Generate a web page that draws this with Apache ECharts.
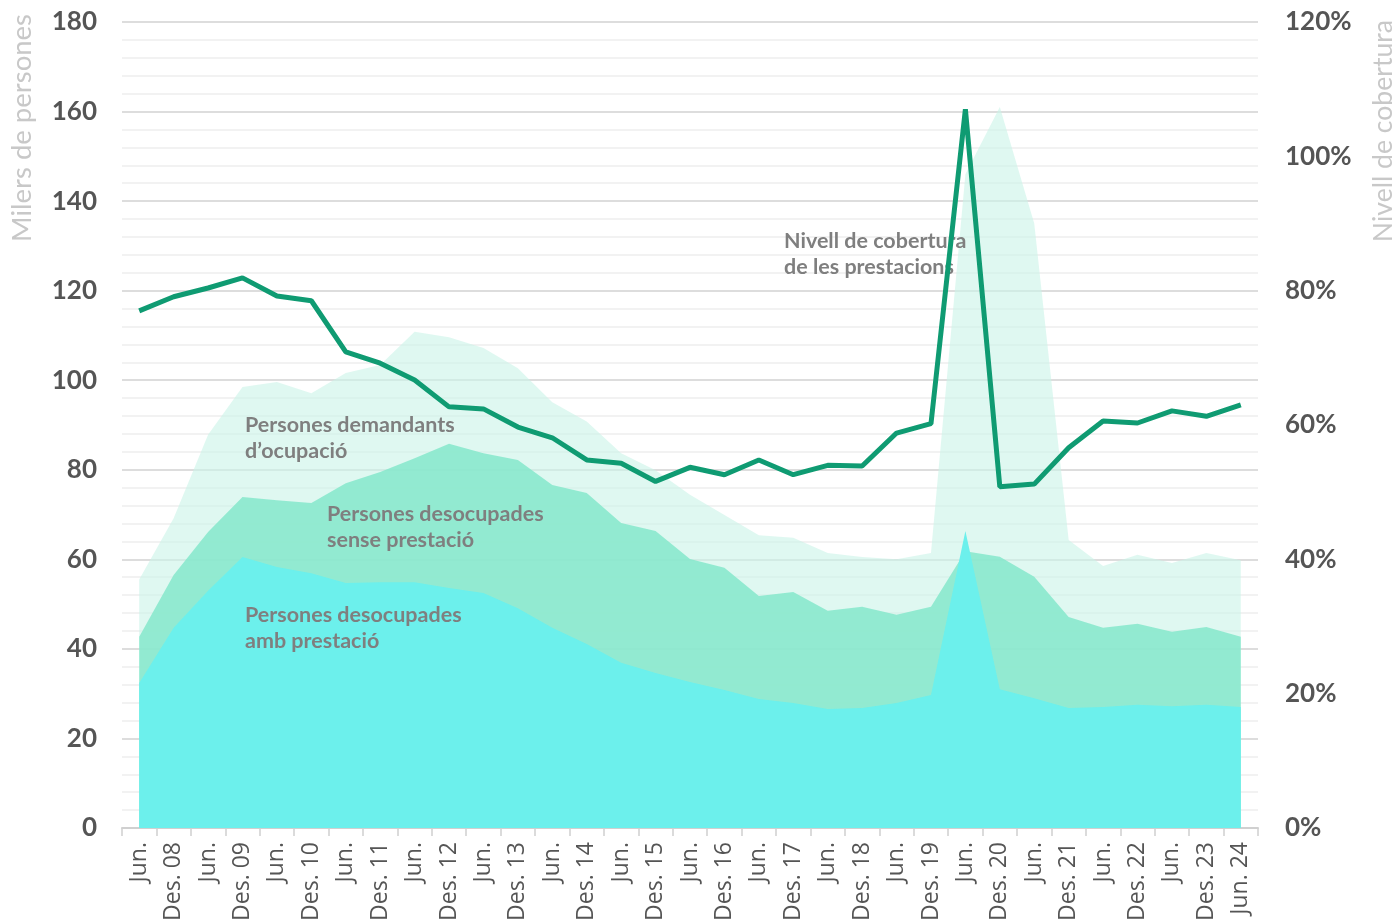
<!DOCTYPE html>
<html>
<head>
<meta charset="utf-8">
<script src="https://cdn.jsdelivr.net/npm/echarts@6/dist/echarts.min.js"></script>
<style>
  html, body { margin: 0; padding: 0; background: #fff; }
  #chart { width: 1396px; height: 922px; }
</style>
</head>
<body>
<div id="chart"></div>
<script>
var categories = ['Jun.', 'Des. 08', 'Jun.', 'Des. 09', 'Jun.', 'Des. 10', 'Jun.', 'Des. 11',
    'Jun.', 'Des. 12', 'Jun.', 'Des. 13', 'Jun.', 'Des. 14', 'Jun.', 'Des. 15', 'Jun.', 'Des. 16',
    'Jun.', 'Des. 17', 'Jun.', 'Des. 18', 'Jun.', 'Des. 19', 'Jun.', 'Des. 20', 'Jun.', 'Des. 21',
    'Jun.', 'Des. 22', 'Jun.', 'Des. 23', 'Jun. 24'];

// milers de persones
var demandants = [55.5, 69.2, 87.8, 98.5, 99.6, 97.1, 101.6, 103.4, 110.8, 109.6, 107.2, 102.7,
    95.1, 90.8, 83.7, 79.9, 74.4, 69.9, 65.4, 64.8, 61.4, 60.5, 60.0, 61.4,
    146, 161, 135, 64.3, 58.5, 61.0, 59.2, 61.4, 59.8];
var desocupades = [42.7, 56.5, 66.1, 73.9, 73.2, 72.6, 77.0, 79.5, 82.6, 85.8, 83.7, 82.2,
    76.6, 74.8, 68.1, 66.3, 60.1, 58.1, 51.8, 52.7, 48.5, 49.4, 47.6, 49.4,
    61.8, 60.6, 56.1, 47.1, 44.7, 45.6, 43.8, 44.9, 42.7];
var ambPrestacio = [32.4, 44.7, 53.0, 60.5, 58.3, 56.9, 54.7, 54.9, 54.9, 53.6, 52.5, 49.1,
    44.7, 41.1, 36.9, 34.6, 32.6, 30.8, 28.8, 27.9, 26.6, 26.8, 27.9, 29.7,
    66.3, 31.0, 29.0, 26.8, 27.0, 27.5, 27.2, 27.5, 27.0];
// %
var cobertura = [77.0, 79.1, 80.4, 81.9, 79.2, 78.5, 70.9, 69.2, 66.7, 62.7, 62.4, 59.7,
    58.1, 54.8, 54.3, 51.6, 53.7, 52.6, 54.8, 52.6, 54.0, 53.9, 58.8, 60.2,
    107.0, 50.8, 51.2, 56.6, 60.6, 60.3, 62.1, 61.3, 63.0];

var labelFont = 'Lato, sans-serif';

function note(x, y, txt) {
    return {
        type: 'text', left: x, top: y, z: 5,
        style: {
            text: txt, fill: '#7f7f7f', font: 'bold 21.5px Lato, sans-serif',
            lineHeight: 26
        }
    };
}

var myChart = echarts.init(document.getElementById('chart'));
var option = {
    animation: false,
    grid: { left: 122, right: 138, top: 22, bottom: 94, outerBoundsMode: 'none', containLabel: false },
    xAxis: {
        type: 'category',
        data: categories,
        boundaryGap: true,
        axisLine: { lineStyle: { color: '#d0d0d0', width: 2 } },
        axisTick: { show: true, length: 8, lineStyle: { color: '#d0d0d0', width: 1.5 } },
        axisLabel: {
            interval: 0, rotate: 90, margin: 14,
            color: '#555', fontSize: 23, fontFamily: 'Open Sans, sans-serif'
        }
    },
    yAxis: [
        {
            type: 'value', min: 0, max: 180, interval: 20,
            axisLine: { show: false }, axisTick: { show: false },
            axisLabel: {
                margin: 25, color: '#555', fontSize: 26, fontWeight: 'bold', fontFamily: labelFont
            },
            splitLine: { lineStyle: { color: '#d2d2d2', width: 1.5 } },
            minorTick: { show: false, splitNumber: 5 },
            minorSplitLine: { show: true, lineStyle: { color: '#eeeeee', width: 1.5 } }
        },
        {
            type: 'value', min: 0, max: 120, interval: 20, position: 'right',
            axisLine: { show: false }, axisTick: { show: false },
            splitLine: { show: false },
            axisLabel: {
                margin: 27, formatter: '{value}%',
                color: '#555', fontSize: 26, fontWeight: 'bold', fontFamily: labelFont
            }
        }
    ],
    series: [
        {
            name: 'Persones demandants d’ocupació', type: 'line', data: demandants,
            showSymbol: false, lineStyle: { width: 0 }, z: 2,
            areaStyle: { color: 'rgb(202,243,232)', opacity: 0.6 }
        },
        {
            name: 'Persones desocupades sense prestació', type: 'line', data: desocupades,
            showSymbol: false, lineStyle: { width: 0 }, z: 3,
            areaStyle: { color: 'rgb(128,231,201)', opacity: 0.8 }
        },
        {
            name: 'Persones desocupades amb prestació', type: 'line', data: ambPrestacio,
            showSymbol: false, lineStyle: { width: 0 }, z: 4,
            areaStyle: { color: '#6cf0ec', opacity: 1 }
        },
        {
            name: 'Nivell de cobertura de les prestacions', type: 'line', data: cobertura,
            yAxisIndex: 1, showSymbol: false, z: 10,
            lineStyle: { color: '#0f9b72', width: 5 }
        }
    ],
    graphic: [
        note(245, 412, 'Persones demandants\nd’ocupació'),
        note(327, 501, 'Persones desocupades\nsense prestació'),
        note(245, 602, 'Persones desocupades\namb prestació'),
        note(784, 228, 'Nivell de cobertura\nde les prestacions'),
        {
            type: 'text', x: 22, y: 14, rotation: Math.PI / 2, z: 5,
            style: {
                text: 'Milers de persones', fill: '#c8c8c8', font: '27.5px Lato, sans-serif',
                align: 'right', verticalAlign: 'middle'
            }
        },
        {
            type: 'text', x: 1383, y: 20, rotation: Math.PI / 2, z: 5,
            style: {
                text: 'Nivell de cobertura', fill: '#c8c8c8', font: '26.6px Lato, sans-serif',
                align: 'right', verticalAlign: 'middle'
            }
        }
    ]
};
myChart.setOption(option);
</script>
</body>
</html>
